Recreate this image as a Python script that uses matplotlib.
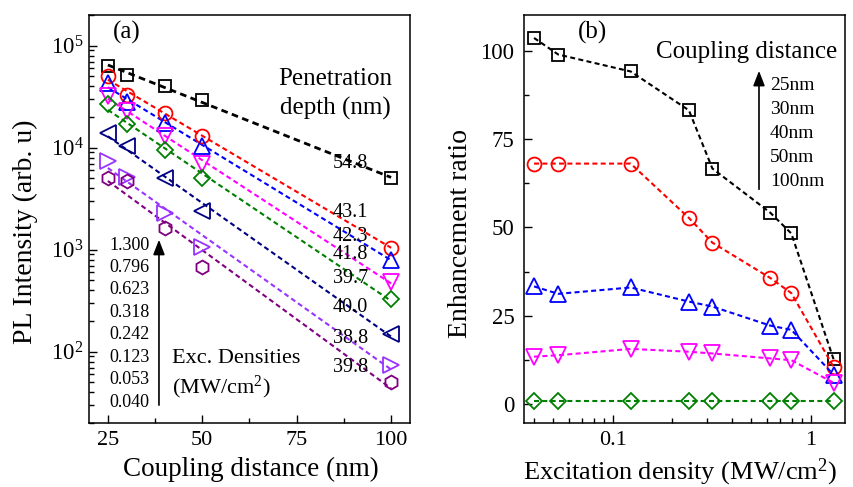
import matplotlib

matplotlib.use("Agg")
import matplotlib.pyplot as plt
import numpy as np
from matplotlib.ticker import FixedLocator, FuncFormatter, LogLocator, NullFormatter

plt.rcParams["font.family"] = ["Liberation Serif", "DejaVu Serif"]
plt.rcParams["mathtext.fontset"] = "custom"
plt.rcParams["mathtext.rm"] = "Liberation Serif"
plt.rcParams["mathtext.it"] = "Liberation Serif:italic"

# ---- panel (a): PL intensity vs coupling distance, one series per excitation density
distance_nm = [25, 30, 40, 50, 100]
pl_1300 = [63800, 52000, 40000, 29500, 5000]
pl_0796 = [50000, 33000, 22000, 13000, 1050]
pl_0623 = [43000, 28000, 17500, 10500, 800]
pl_0318 = [32000, 23000, 13000, 7000, 480]
pl_0242 = [27000, 17000, 9500, 5000, 330]
pl_0123 = [14000, 10400, 5000, 2400, 150]
pl_0053 = [7400, 5200, 2300, 1070, 74]
pl_0040 = [5100, 4700, 1620, 670, 50]
penetration_depth = ["54.8", "43.1", "42.3", "41.8", "39.7", "40.0", "38.8", "39.8"]
exc_density_labels = ["1.300", "0.796", "0.623", "0.318", "0.242", "0.123", "0.053", "0.040"]

# ---- panel (b): enhancement ratio vs excitation density, one series per coupling distance
exc_density = [0.040, 0.053, 0.123, 0.242, 0.318, 0.623, 0.796, 1.300]
enh_25nm = [103.7, 99.0, 94.2, 83.2, 66.7, 54.2, 48.3, 12.7]
enh_30nm = [68.1, 68.1, 68.1, 52.7, 45.7, 35.7, 31.4, 10.5]
enh_40nm = [33.3, 31.2, 33.0, 29.0, 27.6, 22.2, 21.0, 8.3]
enh_50nm = [13.4, 13.8, 15.6, 14.8, 14.3, 12.9, 12.4, 6.0]
enh_100nm = [0.8, 0.8, 0.8, 0.8, 0.8, 0.8, 0.8, 0.8]
coupling_labels = ["25nm", "30nm", "40nm", "50nm", "100nm"]

A_SERIES = [
    (pl_1300, "black", "s", 8, 2.0),
    (pl_0796, "#ff0000", "o", 10, 1.5),
    (pl_0623, "#0000ff", "^", 11, 1.5),
    (pl_0318, "#ff00ff", "v", 11, 1.5),
    (pl_0242, "#008000", "D", 8, 1.5),
    (pl_0123, "#000080", "<", 11, 1.5),
    (pl_0053, "#9933ff", ">", 11, 1.5),
    (pl_0040, "#800080", "h", 10, 1.5),
]
B_SERIES = [
    (enh_25nm, "black", "s", 8),
    (enh_30nm, "#ff0000", "o", 10),
    (enh_40nm, "#0000ff", "^", 11),
    (enh_50nm, "#ff00ff", "v", 11),
    (enh_100nm, "#008000", "D", 8),
]
DASH = (2.4, 1.6)

fig = plt.figure(figsize=(8.54, 4.87), dpi=100)
ax_a = fig.add_axes([0.1042, 0.1314, 0.3759, 0.8378])
ax_b = fig.add_axes([0.6136, 0.1314, 0.3759, 0.8378])

# ---- (a)
x = np.array(distance_nm, dtype=float)
xfit = np.linspace(25, 100, 50)
for vals, color, marker, ms, lw in A_SERIES:
    slope, icpt = np.polyfit(x, np.log10(vals), 1)
    ax_a.plot(xfit, 10 ** (icpt + slope * xfit), color=color, lw=lw,
              dashes=DASH, zorder=2)
    ax_a.plot(x, vals, linestyle="none", marker=marker, ms=ms, mfc="none",
              mec=color, mew=1.3, zorder=3)

ax_a.set_yscale("log")
ax_a.set_xlim(20, 105)
ax_a.set_ylim(20, 2e5)
ax_a.xaxis.set_major_locator(FixedLocator([25, 50, 75, 100]))
ax_a.xaxis.set_minor_locator(FixedLocator([37.5, 62.5, 87.5]))
ax_a.yaxis.set_major_locator(LogLocator(base=10, numticks=10))
ax_a.yaxis.set_minor_locator(LogLocator(base=10, subs=np.arange(2, 10), numticks=20))
ax_a.yaxis.set_minor_formatter(NullFormatter())
ax_a.yaxis.set_major_formatter(FuncFormatter(lambda v, p: r"$10^{%d}$" % round(np.log10(v))))
ax_a.set_xlabel("Coupling distance (nm)", fontsize=19.5, va="top")
ax_a.set_ylabel("PL Intensity (arb. u)", fontsize=20)
ax_a.xaxis.set_label_coords(0.505, -0.082)
ax_a.yaxis.set_label_coords(-0.159, 0.468)

ax_a.text(0.075, 0.956, "(a)", transform=ax_a.transAxes, fontsize=18, va="center")
ax_a.text(0.766, 0.842, "Penetration", transform=ax_a.transAxes, fontsize=18,
          ha="center", va="center")
ax_a.text(0.766, 0.771, "depth (nm)", transform=ax_a.transAxes, fontsize=18,
          ha="center", va="center")
depth_y = [0.637, 0.515, 0.456, 0.412, 0.355, 0.282, 0.208, 0.135]
for lab, yy in zip(penetration_depth, depth_y):
    ax_a.text(0.760, yy, lab, transform=ax_a.transAxes, fontsize=14.5, va="center")
for i, lab in enumerate(exc_density_labels):
    ax_a.text(0.065, 0.436 - i * 0.055, lab, transform=ax_a.transAxes,
              fontsize=13, va="center")
ax_a.annotate("", xy=(0.218, 0.456), xytext=(0.218, 0.037),
              xycoords="axes fraction",
              arrowprops=dict(arrowstyle="-|>,head_length=0.9,head_width=0.35",
                              color="black", lw=1.2))
ax_a.text(0.259, 0.159, "Exc. Densities", transform=ax_a.transAxes, fontsize=16,
          va="center")
ax_a.text(0.259, 0.088, r"(MW/cm$^{2}$)", transform=ax_a.transAxes, fontsize=16,
          va="center")

# ---- (b)
for vals, color, marker, ms in B_SERIES:
    ax_b.plot(exc_density, vals, color=color, lw=1.5, dashes=DASH, marker=marker,
              ms=ms, mfc="none", mec=color, mew=1.3)

ax_b.set_xscale("log")
ax_b.set_xlim(0.0356, 1.486)
ax_b.set_ylim(-5.4, 110.2)
ax_b.yaxis.set_major_locator(FixedLocator([0, 25, 50, 75, 100]))
ax_b.yaxis.set_minor_locator(FixedLocator([12.5, 37.5, 62.5, 87.5]))
ax_b.xaxis.set_major_locator(FixedLocator([0.1, 1]))
ax_b.xaxis.set_major_formatter(FuncFormatter(lambda v, p: "%g" % v))
ax_b.xaxis.set_minor_locator(LogLocator(base=10, subs=np.arange(2, 10), numticks=20))
ax_b.xaxis.set_minor_formatter(NullFormatter())
ax_b.set_xlabel(r"Excitation density (MW/cm$^{2}$)", fontsize=19, va="top")
ax_b.set_ylabel("Enhancement ratio", fontsize=20)
ax_b.xaxis.set_label_coords(0.485, -0.082)
ax_b.yaxis.set_label_coords(-0.159, 0.464)

ax_b.text(0.168, 0.956, "(b)", transform=ax_b.transAxes, fontsize=18, va="center")
ax_b.text(0.975, 0.909, "Coupling distance", transform=ax_b.transAxes, fontsize=18,
          ha="right", va="center")
ax_b.annotate("", xy=(0.732, 0.870), xytext=(0.732, 0.566),
              xycoords="axes fraction",
              arrowprops=dict(arrowstyle="-|>,head_length=0.9,head_width=0.35",
                              color="black", lw=1.2))
for i, lab in enumerate(coupling_labels):
    ax_b.text(0.766, 0.828 - i * 0.059, lab, transform=ax_b.transAxes,
              fontsize=14, va="center")

for ax in (ax_a, ax_b):
    ax.tick_params(which="both", direction="in", top=False, right=False,
                   labelsize=16.5)
    ax.tick_params(which="major", length=6, width=1)
    ax.tick_params(which="minor", length=3.5, width=1)
    ax.tick_params(axis="x", which="both", pad=5.5, labelsize=16)
    for sp in ax.spines.values():
        sp.set_linewidth(1.1)
ax_a.tick_params(axis="y", which="both", pad=4)
ax_b.tick_params(axis="y", which="both", pad=7)

fig.savefig("out.png", dpi=100)
